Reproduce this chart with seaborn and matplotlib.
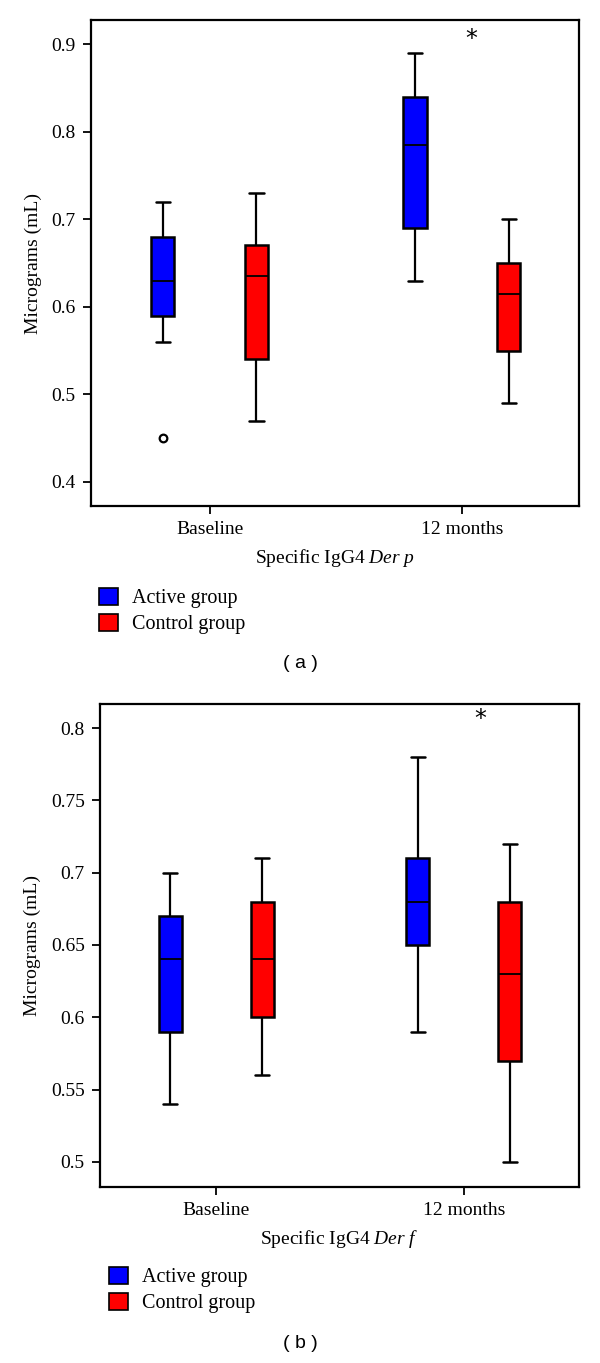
import numpy as np
import pandas as pd
import matplotlib
matplotlib.use("Agg")
import matplotlib.pyplot as plt
import seaborn as sns

# ---------------- data ----------------
times = ["Baseline", "12 months"]
groups = ["Active group", "Control group"]
box_time = ["Baseline", "Baseline", "12 months", "12 months"]
box_group = ["Active group", "Control group", "Active group", "Control group"]

# Panel (a): Specific IgG4 Der p
a_low = [0.56, 0.47, 0.63, 0.49]
a_q1 = [0.59, 0.54, 0.69, 0.55]
a_median = [0.63, 0.635, 0.785, 0.615]
a_q3 = [0.68, 0.67, 0.84, 0.65]
a_high = [0.72, 0.73, 0.89, 0.70]
a_outlier = [0.45, None, None, None]
a_yticks = [0.4, 0.5, 0.6, 0.7, 0.8, 0.9]
a_yticklabels = ["0.4", "0.5", "0.6", "0.7", "0.8", "0.9"]
a_star = (1.038, 0.906)

# Panel (b): Specific IgG4 Der f
b_low = [0.54, 0.56, 0.59, 0.50]
b_q1 = [0.59, 0.60, 0.65, 0.57]
b_median = [0.64, 0.64, 0.68, 0.63]
b_q3 = [0.67, 0.68, 0.71, 0.68]
b_high = [0.70, 0.71, 0.78, 0.72]
b_outlier = [None, None, None, None]
b_yticks = [0.5, 0.55, 0.6, 0.65, 0.7, 0.75, 0.8]
b_yticklabels = ["0.5", "0.55", "0.6", "0.65", "0.7", "0.75", "0.8"]
b_star = (1.065, 0.8065)

colors = {"Active group": "#0000FF", "Control group": "#FF0000"}


def build_frame(low, q1, med, q3, high, outlier):
    """Sample whose quartiles / whiskers reproduce the read-off box statistics."""
    rows = []
    for t, g, lo, a, m, b, hi, o in zip(box_time, box_group, low, q1, med, q3, high, outlier):
        first = lo if o is None else o
        vals = [first, lo, a, a, m, b, b, hi, hi]
        for v in vals:
            rows.append({"time": t, "group": g, "value": v})
    return pd.DataFrame(rows)


df_a = build_frame(a_low, a_q1, a_median, a_q3, a_high, a_outlier)
df_b = build_frame(b_low, b_q1, b_median, b_q3, b_high, b_outlier)

# ---------------- style ----------------
sns.set_theme(style="ticks")
plt.rcParams["font.family"] = ["Liberation Serif", "DejaVu Serif"]
plt.rcParams["mathtext.fontset"] = "custom"
plt.rcParams["mathtext.rm"] = "Liberation Serif"
plt.rcParams["mathtext.it"] = "Liberation Serif:italic"
plt.rcParams["axes.linewidth"] = 1.6
plt.rcParams["axes.edgecolor"] = "black"
plt.rcParams["axes.labelcolor"] = "black"
plt.rcParams["text.color"] = "black"
plt.rcParams["xtick.color"] = "black"
plt.rcParams["ytick.color"] = "black"
plt.rcParams["xtick.labelcolor"] = "black"
plt.rcParams["ytick.labelcolor"] = "black"

W, H = 600, 1363
fig = plt.figure(figsize=(W / 100, H / 100), dpi=100)


def px_axes(left, top, right, bottom):
    return fig.add_axes([left / W, 1 - bottom / H, (right - left) / W, (bottom - top) / H])


ax_a = px_axes(91, 20, 579, 506)
ax_b = px_axes(100, 704, 579, 1187)


def draw(ax, df, yticks, yticklabels, ylim, xlabel, star, legend_xy):
    sns.boxplot(
        data=df, x="time", y="value", hue="group", order=times, hue_order=groups,
        palette=colors, width=0.744, gap=0.75, linecolor="black", linewidth=1.8,
        saturation=1, ax=ax, capwidths=0.056,
        medianprops={"linewidth": 1.3, "color": "black"},
        whiskerprops={"linewidth": 1.6},
        capprops={"linewidth": 1.8},
        flierprops={"marker": "o", "markerfacecolor": "white", "markeredgecolor": "black",
                    "markersize": 5.5, "markeredgewidth": 1.6},
    )
    ax.set_xlim(-0.47, 1.465)
    ax.set_ylim(*ylim)
    ax.set_yticks(yticks)
    ax.set_yticklabels(yticklabels)
    ax.tick_params(axis="both", length=6, width=1.3, labelsize=14, pad=5, color="black")
    ax.set_ylabel("Micrograms (mL)", fontsize=14, labelpad=7)
    ax.set_xlabel(xlabel, fontsize=14, labelpad=6)
    for s in ax.spines.values():
        s.set_visible(True)
        s.set_linewidth(1.6)
        s.set_color("black")
    ax.text(star[0], star[1], "*", ha="center", va="center", fontsize=17,
            family="DejaVu Sans")

    leg = ax.get_legend()
    handles = leg.legend_handles
    labels = [t.get_text() for t in leg.texts]
    leg.remove()
    for hnd in handles:
        hnd.set_edgecolor("black")
        hnd.set_linewidth(1.2)
    ax.legend(handles, labels, loc="upper left",
              bbox_to_anchor=(legend_xy[0] / W, 1 - legend_xy[1] / H),
              bbox_transform=fig.transFigure, frameon=False, fontsize=14.5,
              handlelength=0.92, handleheight=0.92, handletextpad=0.7,
              labelspacing=0.28, borderpad=0, borderaxespad=0)


draw(ax_a, df_a, a_yticks, a_yticklabels, (0.3726, 0.9274),
     r"Specific IgG4 $\mathit{Der\ p}$", a_star, (99, 588))
draw(ax_b, df_b, b_yticks, b_yticklabels, (0.4827, 0.8166),
     r"Specific IgG4 $\mathit{Der\ f}$", b_star, (109, 1267))

fig.text(300 / W, 1 - 663 / H, "( a )", ha="center", va="center", fontsize=14,
         family="Liberation Sans")
fig.text(300 / W, 1 - 1343 / H, "( b )", ha="center", va="center", fontsize=14,
         family="Liberation Sans")

fig.savefig("out.png", dpi=100)
